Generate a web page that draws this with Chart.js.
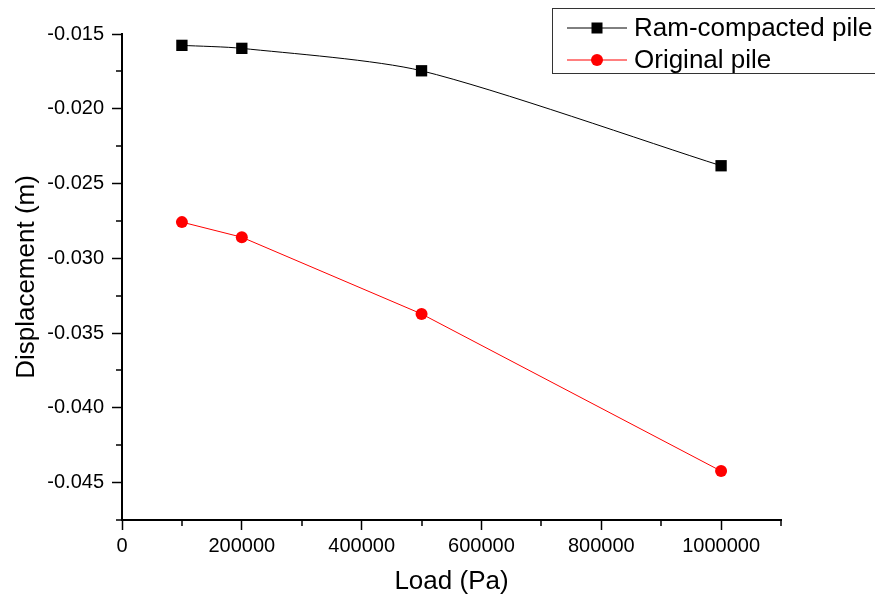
<!DOCTYPE html>
<html>
<head>
<meta charset="utf-8">
<script src="https://cdn.jsdelivr.net/npm/chart.js@4"></script>
<style>
  html, body { margin: 0; padding: 0; background: #fff; }
  canvas { display: block; }
</style>
</head>
<body>
<canvas id="chart" width="875" height="601"></canvas>
<script>
// Load vs displacement, two piles.
const loads = [100000, 200000, 500000, 1000000];
const ramCompacted = [-0.01576, -0.01596, -0.01746, -0.02381];
const originalPile = [-0.02758, -0.02859, -0.03372, -0.04423];
const seriesNames = ['Ram-compacted pile', 'Original pile'];
const xTicks = [0, 200000, 400000, 600000, 800000, 1000000];
const xMinor = [100000, 300000, 500000, 700000, 900000, 1100000];
const yTicks = [-0.015, -0.020, -0.025, -0.030, -0.035, -0.040, -0.045];
const yMinor = [-0.0175, -0.0225, -0.0275, -0.0325, -0.0375, -0.0425, -0.0475];

const FONT = 'Liberation Sans, Arial, sans-serif';
const pts = (ys) => loads.map((x, i) => ({ x, y: ys[i] }));

// minor ticks + legend box, Origin style
const extras = {
  id: 'extras',
  afterDraw(c) {
    const ctx = c.ctx, xs = c.scales.x, ys = c.scales.y;
    ctx.save();
    ctx.strokeStyle = '#000'; ctx.lineWidth = 1.5;
    ctx.beginPath();
    for (const v of xMinor) { const p = Math.round(xs.getPixelForValue(v)); ctx.moveTo(p, xs.top); ctx.lineTo(p, xs.top + 6); }
    for (const v of yMinor) { const p = Math.round(ys.getPixelForValue(v)); ctx.moveTo(ys.right, p); ctx.lineTo(ys.right - 6, p); }
    ctx.stroke();

    // legend
    ctx.lineWidth = 1; ctx.strokeStyle = '#333';
    ctx.strokeRect(552.5, 8.5, 340, 65);
    ctx.font = '26px ' + FONT; ctx.textBaseline = 'middle'; ctx.fillStyle = '#000';
    c.data.datasets.forEach((d, i) => {
      const y = 28 + i * 32;
      ctx.strokeStyle = d.borderColor; ctx.lineWidth = 1;
      ctx.beginPath(); ctx.moveTo(567, y); ctx.lineTo(627, y); ctx.stroke();
      ctx.fillStyle = d.pointBackgroundColor;
      if (d.pointStyle === 'rect') ctx.fillRect(597 - 5.5, y - 5.5, 11, 11);
      else { ctx.beginPath(); ctx.arc(597, y, 6, 0, Math.PI * 2); ctx.fill(); }
      ctx.fillStyle = '#000';
      ctx.fillText(d.label, 634, y + 1);
    });
    ctx.restore();
  }
};

new Chart(document.getElementById('chart'), {
  type: 'line',
  data: {
    datasets: [
      { label: seriesNames[0], data: pts(ramCompacted), borderColor: '#000', backgroundColor: '#000', pointBackgroundColor: '#000',
        pointBorderWidth: 0, pointStyle: 'rect', pointRadius: 8, borderWidth: 1, tension: 0.25 },
      { label: seriesNames[1], data: pts(originalPile), borderColor: '#ff0000', backgroundColor: '#ff0000', pointBackgroundColor: '#ff0000',
        pointBorderWidth: 0, pointStyle: 'circle', pointRadius: 6, borderWidth: 1, tension: 0 },
    ],
  },
  options: {
    responsive: false, animation: false, devicePixelRatio: 1,
    layout: { padding: { top: 34, right: 94, left: 0, bottom: 0 } },
    plugins: { legend: { display: false }, tooltip: { enabled: false } },
    scales: {
      x: {
        type: 'linear', min: 0, max: 1100000,
        afterBuildTicks: (s) => { s.ticks = xTicks.map((v) => ({ value: v })); },
        afterFit: (s) => { s.height = 81; },
        border: { color: '#000', width: 2 },
        grid: { drawOnChartArea: false, drawTicks: true, tickLength: 10, tickColor: '#000', tickWidth: 1.5 },
        ticks: { color: '#000', font: { family: FONT, size: 20 }, padding: 4, maxRotation: 0, callback: (v) => String(v) },
        title: { display: true, text: 'Load (Pa)', color: '#000', font: { family: FONT, size: 26 }, padding: { top: 2, bottom: 4 } },
      },
      y: {
        type: 'linear', min: -0.0475, max: -0.015,
        afterBuildTicks: (s) => { s.ticks = yTicks.map((v) => ({ value: v })); },
        afterFit: (s) => { s.width = 122; },
        border: { color: '#000', width: 2 },
        grid: { drawOnChartArea: false, drawTicks: true, tickLength: 10, tickColor: '#000', tickWidth: 1.5 },
        ticks: { color: '#000', font: { family: FONT, size: 20 }, padding: 8, callback: (v) => v.toFixed(3) },
        title: { display: true, text: 'Displacement (m)', color: '#000', font: { family: FONT, size: 26 }, padding: { top: 11, bottom: 4 } },
      },
    },
  },
  plugins: [extras],
});
</script>
</body>
</html>
